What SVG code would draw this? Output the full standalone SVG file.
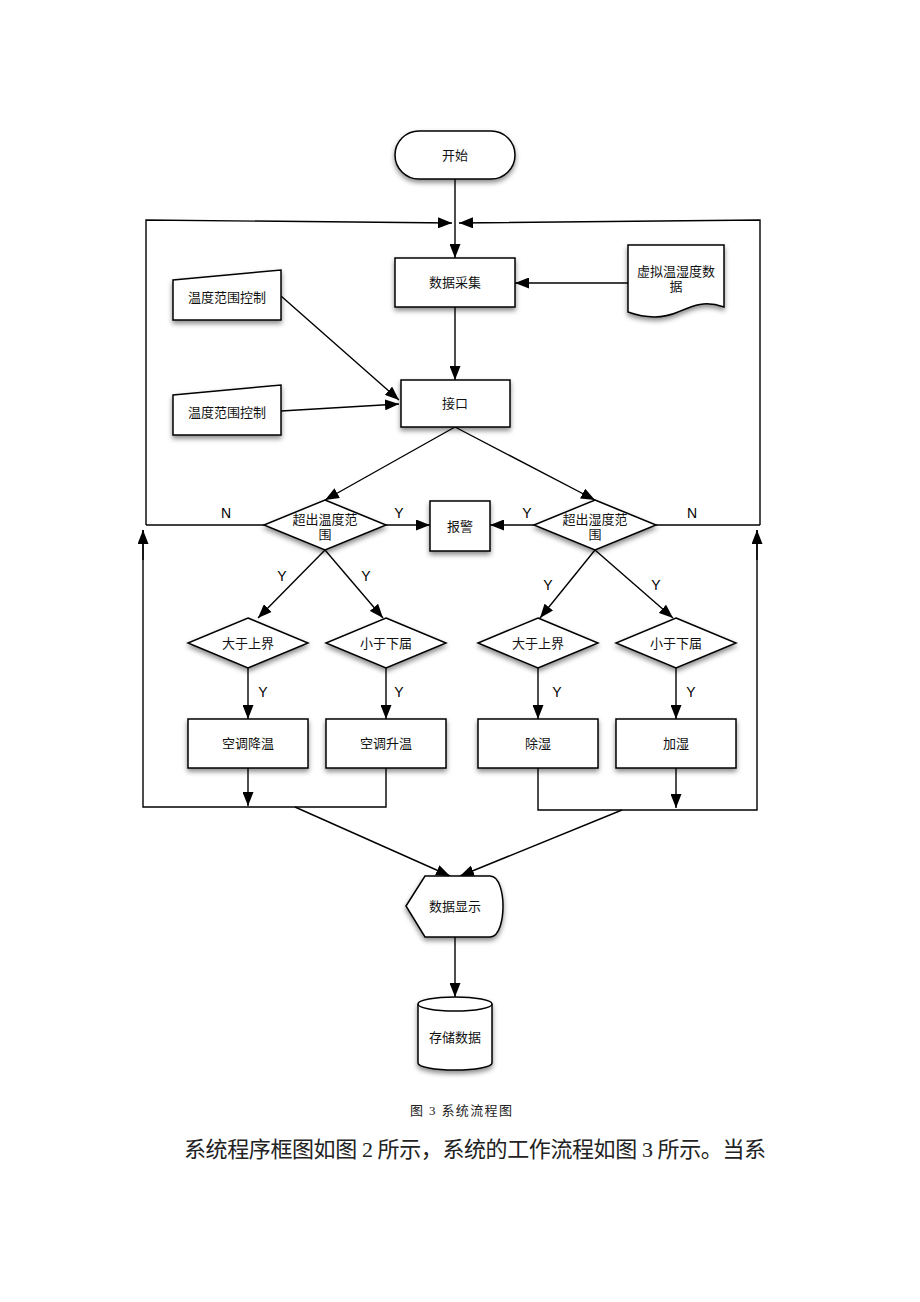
<svg xmlns="http://www.w3.org/2000/svg" width="920" height="1302" viewBox="0 0 920 1302">
<style>
.shape{fill:#fff;stroke:#000;stroke-width:1.5;filter:url(#sh)}
.ln{fill:none;stroke:#000;stroke-width:1.4}
.lbl{font-family:"Liberation Sans","Noto Sans CJK SC",sans-serif;font-size:13px;fill:#111;text-anchor:middle}
.yn{font-family:"Liberation Sans","Noto Sans CJK SC",sans-serif;font-size:14px;fill:#000;text-anchor:middle}
.cap{font-family:"Liberation Serif","Noto Sans CJK SC",serif;fill:#222}
</style>
<defs>
<filter id="sh" x="-20%" y="-20%" width="150%" height="160%">
<feDropShadow dx="0" dy="3" stdDeviation="2.5" flood-color="#000" flood-opacity="0.45"/>
</filter>
<marker id="ah" viewBox="0 0 14 11" refX="14" refY="5.5" markerWidth="14" markerHeight="11" markerUnits="userSpaceOnUse" orient="auto">
<path d="M0,0 L14,5.5 L0,11 Z" fill="#000"/>
</marker>
</defs>
<rect width="920" height="1302" fill="#fff"/>

<g id="connectors">
<line class="ln" x1="455" y1="179" x2="455" y2="258" marker-end="url(#ah)"/>
<polyline class="ln" points="146,525 146,220 452,223" marker-end="url(#ah)"/>
<polyline class="ln" points="760,525 760,220 459,223" marker-end="url(#ah)"/>
<line class="ln" x1="628" y1="283" x2="515" y2="283" marker-end="url(#ah)"/>
<line class="ln" x1="455" y1="307" x2="455" y2="380" marker-end="url(#ah)"/>
<line class="ln" x1="281" y1="296" x2="399" y2="400" marker-end="url(#ah)"/>
<line class="ln" x1="281" y1="411" x2="399" y2="404" marker-end="url(#ah)"/>
<line class="ln" x1="455" y1="427" x2="325" y2="500" marker-end="url(#ah)"/>
<line class="ln" x1="455" y1="427" x2="595" y2="500" marker-end="url(#ah)"/>
<line class="ln" x1="386" y1="525" x2="430" y2="525" marker-end="url(#ah)"/>
<line class="ln" x1="534" y1="525" x2="490" y2="525" marker-end="url(#ah)"/>
<line class="ln" x1="264" y1="525" x2="146" y2="525"/>
<line class="ln" x1="656" y1="525" x2="760" y2="525"/>
<line class="ln" x1="325" y1="550" x2="258" y2="618" marker-end="url(#ah)"/>
<line class="ln" x1="325" y1="550" x2="383" y2="618" marker-end="url(#ah)"/>
<line class="ln" x1="595" y1="550" x2="540" y2="618" marker-end="url(#ah)"/>
<line class="ln" x1="595" y1="550" x2="673" y2="618" marker-end="url(#ah)"/>
<line class="ln" x1="248" y1="668" x2="248" y2="719" marker-end="url(#ah)"/>
<line class="ln" x1="386" y1="668" x2="386" y2="719" marker-end="url(#ah)"/>
<line class="ln" x1="538" y1="668" x2="538" y2="719" marker-end="url(#ah)"/>
<line class="ln" x1="676" y1="668" x2="676" y2="719" marker-end="url(#ah)"/>
<line class="ln" x1="248" y1="768" x2="248" y2="806" marker-end="url(#ah)"/>
<line class="ln" x1="676" y1="768" x2="676" y2="808" marker-end="url(#ah)"/>
<polyline class="ln" points="386,768 386,807 143,807 143,530"/>
<line class="ln" x1="143" y1="560" x2="143" y2="530" marker-end="url(#ah)"/>
<polyline class="ln" points="538,768 538,810 757,810 757,530"/>
<line class="ln" x1="757" y1="560" x2="757" y2="530" marker-end="url(#ah)"/>
<line class="ln" x1="295" y1="807" x2="450" y2="876" marker-end="url(#ah)"/>
<line class="ln" x1="622" y1="810" x2="460" y2="876" marker-end="url(#ah)"/>
<line class="ln" x1="455" y1="937" x2="455" y2="997" marker-end="url(#ah)"/>
</g>

<g id="yn-labels">
<text class="yn" x="226" y="518">N</text>
<text class="yn" x="399" y="518">Y</text>
<text class="yn" x="527" y="518">Y</text>
<text class="yn" x="692" y="518">N</text>
<text class="yn" x="282" y="581">Y</text>
<text class="yn" x="366" y="581">Y</text>
<text class="yn" x="548" y="590">Y</text>
<text class="yn" x="656" y="590">Y</text>
<text class="yn" x="263" y="697">Y</text>
<text class="yn" x="399" y="697">Y</text>
<text class="yn" x="557" y="697">Y</text>
<text class="yn" x="691" y="697">Y</text>
</g>

<g id="start">
<rect class="shape" x="395" y="131" width="120" height="48" rx="24" ry="24"/>
<text class="lbl" x="455" y="160">开始</text>
</g>
<g id="collect">
<rect class="shape" x="395" y="258" width="120" height="49"/>
<text class="lbl" x="455" y="287">数据采集</text>
</g>
<g id="virtual">
<path class="shape" d="M628,245 L724,245 L724,307 C704,300 692,306 678,312 C662,319 645,318 628,312 Z"/>
<text class="lbl" x="676" y="276">虚拟温湿度数</text>
<text class="lbl" x="676" y="291">据</text>
</g>
<g id="temp-ctrl">
<path class="shape" d="M173,280 L281,270 L281,320 L173,320 Z"/>
<text class="lbl" x="227" y="302">温度范围控制</text>
</g>
<g id="hum-ctrl">
<path class="shape" d="M173,395 L281,385 L281,435 L173,435 Z"/>
<text class="lbl" x="227" y="417">温度范围控制</text>
</g>
<g id="interface">
<rect class="shape" x="401" y="380" width="109" height="47"/>
<text class="lbl" x="455" y="408">接口</text>
</g>
<g id="temp-check">
<path class="shape" d="M325,500 L386,525 L325,550 L264,525 Z"/>
<text class="lbl" x="325" y="524">超出温度范</text>
<text class="lbl" x="325" y="539">围</text>
</g>
<g id="hum-check">
<path class="shape" d="M595,500 L656,525 L595,550 L534,525 Z"/>
<text class="lbl" x="595" y="524">超出湿度范</text>
<text class="lbl" x="595" y="539">围</text>
</g>
<g id="alarm">
<rect class="shape" x="430" y="501" width="60" height="50"/>
<text class="lbl" x="460" y="531">报警</text>
</g>
<g id="t-upper">
<path class="shape" d="M248,618 L308,643 L248,668 L188,643 Z"/>
<text class="lbl" x="248" y="648">大于上界</text>
</g>
<g id="t-lower">
<path class="shape" d="M386,618 L446,643 L386,668 L326,643 Z"/>
<text class="lbl" x="386" y="648">小于下届</text>
</g>
<g id="h-upper">
<path class="shape" d="M538,618 L598,643 L538,668 L478,643 Z"/>
<text class="lbl" x="538" y="648">大于上界</text>
</g>
<g id="h-lower">
<path class="shape" d="M676,618 L736,643 L676,668 L616,643 Z"/>
<text class="lbl" x="676" y="648">小于下届</text>
</g>
<g id="cool">
<rect class="shape" x="188" y="719" width="120" height="49"/>
<text class="lbl" x="248" y="748">空调降温</text>
</g>
<g id="heat">
<rect class="shape" x="326" y="719" width="120" height="49"/>
<text class="lbl" x="386" y="748">空调升温</text>
</g>
<g id="dehumid">
<rect class="shape" x="478" y="719" width="120" height="49"/>
<text class="lbl" x="538" y="748">除湿</text>
</g>
<g id="humid">
<rect class="shape" x="616" y="719" width="120" height="49"/>
<text class="lbl" x="676" y="748">加湿</text>
</g>
<g id="display">
<path class="shape" d="M406,906 L425,876 L490,876 C500,876 503,895 503,906 C503,918 500,937 490,937 L425,937 Z"/>
<text class="lbl" x="455" y="911">数据显示</text>
</g>
<g id="store">
<path class="shape" d="M418,1004 A37,7 0 0 1 492,1004 L492,1063 A37,7 0 0 1 418,1063 Z"/>
<path class="ln" d="M418,1004 A37,7 0 0 0 492,1004"/>
<text class="lbl" x="455" y="1042">存储数据</text>
</g>

<g id="caption">
<text class="cap" x="410" y="1115" font-size="13" textLength="102" lengthAdjust="spacing">图 3 系统流程图</text>
<text class="cap" x="184" y="1157" font-size="22" textLength="582" lengthAdjust="spacing">系统程序框图如图 2 所示，系统的工作流程如图 3 所示。当系</text>
</g>
</svg>
